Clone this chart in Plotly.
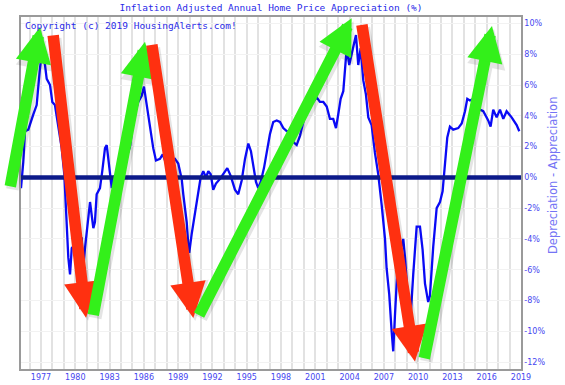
import plotly.graph_objects as go

# ---- data ----
years = [1975.25, 1975.45, 1975.60, 1975.89, 1976.33, 1976.62, 1976.91, 1977.11, 1977.35, 1977.50,
         1977.79, 1977.99, 1978.22, 1978.51, 1978.81, 1979.04, 1979.16, 1979.25, 1979.39, 1979.54,
         1979.69, 1979.91, 1980.24, 1980.56, 1980.70, 1980.85, 1981.14, 1981.29, 1981.58, 1981.72,
         1981.87, 1982.16, 1982.36, 1982.60, 1982.75, 1982.95, 1983.19, 1983.33, 1983.62, 1984.00,
         1984.35, 1984.79, 1985.08, 1985.51, 1985.81, 1986.01, 1986.25, 1986.54, 1986.82, 1987.06,
         1987.41, 1987.65, 1987.85, 1988.29, 1988.72, 1989.01, 1989.31, 1989.45, 1989.75, 1989.89,
         1989.97, 1990.18, 1990.47, 1990.76, 1990.97, 1991.20, 1991.44, 1991.64, 1991.85, 1992.07,
         1992.31, 1992.66, 1992.95, 1993.30, 1993.60, 1993.97, 1994.26, 1994.56, 1994.85, 1995.14,
         1995.37, 1995.57, 1995.81, 1996.01, 1996.22, 1996.51, 1996.75, 1997.03, 1997.32, 1997.62,
         1997.91, 1998.20, 1998.50, 1998.78, 1999.07, 1999.37, 1999.66, 1999.95, 2000.25, 2000.53,
         2000.82, 2001.12, 2001.41, 2001.70, 2002.00, 2002.28, 2002.57, 2002.81, 2003.01, 2003.22,
         2003.45, 2003.75, 2003.97, 2004.18, 2004.38, 2004.56, 2004.76, 2004.97, 2005.20, 2005.43,
         2005.64, 2005.93, 2006.22, 2006.51, 2006.81, 2007.10, 2007.24, 2007.47, 2007.68, 2007.82,
         2007.97, 2008.17, 2008.41, 2008.70, 2008.85, 2008.99, 2009.28, 2009.57, 2009.87, 2010.16,
         2010.39, 2010.60, 2010.88, 2011.03, 2011.32, 2011.62, 2011.91, 2012.14, 2012.35, 2012.55,
         2012.78, 2013.07, 2013.51, 2013.81, 2014.10, 2014.30, 2014.53, 2014.82, 2015.12, 2015.41,
         2015.70, 2016.13, 2016.34, 2016.57, 2016.87, 2017.16, 2017.45, 2017.74, 2018.18, 2018.62,
         2018.85]
appreciation = [-0.7, 1.0, 3.0, 3.1, 4.1, 4.7, 7.1, 8.2, 7.3, 6.4,
                6.0, 4.9, 4.7, 3.4, 1.9, 0.2, -1.6, -3.5, -5.2, -6.3,
                -4.6, -4.4, -4.6, -3.9, -5.9, -4.6, -2.4, -1.6, -3.3, -2.9,
                -1.1, -0.7, 0.4, 1.9, 2.1, 0.8, -0.7, 0.0, 0.2, 0.6,
                1.0, 2.0, 3.8, 4.9, 5.3, 5.9, 4.7, 3.2, 1.9, 1.1,
                1.2, 1.5, 1.1, 1.1, 1.2, 0.9, -0.1, -1.1, -2.9, -4.4,
                -4.9, -3.7, -2.4, -1.1, 0.0, 0.4, 0.0, 0.4, 0.2, -0.8,
                -0.4, -0.1, 0.2, 0.6, 0.1, -0.8, -1.1, -0.2, 1.2, 2.2,
                1.7, 0.7, -0.3, -0.7, -0.3, 0.6, 1.6, 2.8, 3.6, 3.7,
                3.6, 3.2, 3.0, 3.0, 2.3, 2.1, 2.7, 3.6, 4.3, 4.7,
                4.9, 5.2, 4.9, 4.9, 4.6, 3.8, 3.8, 3.2, 4.1, 5.1,
                5.6, 8.4, 7.3, 8.0, 8.8, 9.25, 7.3, 8.4, 6.3, 5.4,
                3.9, 3.4, 1.6, 0.2, -1.8, -4.0, -5.9, -7.6, -10.0, -11.3,
                -9.0, -6.2, -4.9, -4.0, -5.2, -6.7, -9.8, -6.3, -3.2, -3.2,
                -4.7, -6.9, -8.1, -7.7, -4.5, -2.0, -1.6, -0.9, 0.8, 2.6,
                3.3, 3.1, 3.2, 3.5, 4.3, 5.1, 5.0, 5.1, 4.5, 4.4,
                4.3, 3.7, 3.3, 4.4, 3.9, 4.4, 3.8, 4.3, 3.9, 3.4,
                3.0]

tick_years = [1977, 1980, 1983, 1986, 1989, 1992, 1995, 1998, 2001, 2004, 2007, 2010, 2013, 2016, 2019]
y_ticks = [10, 8, 6, 4, 2, 0, -2, -4, -6, -8, -10, -12]

# trend arrows: tail (year, pct) -> head (year, pct)
arrow_colors = ["green", "red", "green", "red", "green", "red", "green"]
arrow_tail_x = [1974.29, 1978.05, 1981.55, 1986.68, 1990.76, 2005.06, 2010.51]
arrow_tail_y = [-0.68, 9.32, -9.04, 8.71, -9.04, 10.01, -11.85]
arrow_head_x = [1976.91, 1980.94, 1986.10, 1990.33, 2004.18, 2009.72, 2016.46]
arrow_head_y = [9.77, -9.12, 8.82, -9.14, 10.34, -11.96, 9.84]

COLOR_MAP = {"green": "#33f01a", "red": "#ff3010"}
TEXT_BLUE = "#2a2ae8"
MONO = "DejaVu Sans Mono"

fig = go.Figure()
fig.add_trace(go.Scatter(x=years, y=appreciation, mode="lines",
                         line=dict(color="#0a0af5", width=2.3), hoverinfo="skip",
                         showlegend=False))

fig.add_shape(type="line", xref="paper", x0=0, x1=1, yref="y", y0=0, y1=0,
              line=dict(color="#0c1a8a", width=4.5), layer="above")

annotations = []
for c, tx, ty, hx, hy in zip(arrow_colors, arrow_tail_x, arrow_tail_y, arrow_head_x, arrow_head_y):
    # soft shadow
    annotations.append(dict(x=hx, y=hy, ax=tx, ay=ty, xref="x", yref="y", axref="x", ayref="y",
                            text="", showarrow=True, arrowhead=2, arrowsize=0.62, arrowwidth=12.5,
                            arrowcolor="rgba(0,0,0,0.10)", standoff=0, xshift=2, yshift=-3))
for c, tx, ty, hx, hy in zip(arrow_colors, arrow_tail_x, arrow_tail_y, arrow_head_x, arrow_head_y):
    annotations.append(dict(x=hx, y=hy, ax=tx, ay=ty, xref="x", yref="y", axref="x", ayref="y",
                            text="", showarrow=True, arrowhead=2, arrowsize=0.62, arrowwidth=11.5,
                            arrowcolor=COLOR_MAP[c], standoff=0))

annotations.append(dict(text="Copyright (c) 2019 HousingAlerts.com!", xref="paper", yref="paper",
                        x=0.003, y=0.997, xanchor="left", yanchor="top", showarrow=False,
                        font=dict(family=MONO, size=9.5, color=TEXT_BLUE)))

annotations.append(dict(text="Depreciation - Appreciation", xref="paper", yref="paper",
                        x=(553 - 21) / 500, y=(369 - 176) / 352, xanchor="center", yanchor="middle",
                        textangle=-90, showarrow=False,
                        font=dict(family="DejaVu Sans", size=11.5, color="#7474f5")))

fig.update_layout(
    width=565, height=385,
    margin=dict(l=21, r=44, t=17, b=16, autoexpand=False),
    paper_bgcolor="white", plot_bgcolor="white",
    title=dict(text="Inflation Adjusted Annual Home Price Appreciation (%)",
               x=(21 + 250) / 565, xanchor="center", y=1 - 8 / 385, yanchor="middle",
               font=dict(family=MONO, size=9.5, color=TEXT_BLUE)),
    annotations=annotations,
    showlegend=False,
)

fig.update_xaxes(range=[1975.25, 2019.0], tickmode="array", tickvals=tick_years,
                 ticktext=[str(t) for t in tick_years], ticks="", showgrid=True,
                 gridcolor="#e2e2e2", gridwidth=1.5, automargin=False,
                 minor=dict(dtick=1, tick0=1975, showgrid=True, gridcolor="#e2e2e2", gridwidth=1.5),
                 tickfont=dict(family="DejaVu Sans", size=8, color="#4646f0"),
                 showline=True, linecolor="#9a9a9a", linewidth=1.5, mirror=True,
                 zeroline=False, fixedrange=True)
fig.update_yaxes(range=[-12.45, 10.42], side="right", tickmode="array", tickvals=y_ticks,
                 ticktext=[f"{v}%" for v in y_ticks], ticks="", showgrid=True,
                 gridcolor="#f2f2f2", gridwidth=1, automargin=False,
                 tickfont=dict(family="DejaVu Sans", size=8, color="#4646f0"),
                 showline=True, linecolor="#9a9a9a", linewidth=1.5, mirror=True,
                 zeroline=False, fixedrange=True)

fig.write_html("out.html", config={"displayModeBar": False},
               post_script="document.body.style.margin='0px';document.body.style.overflow='hidden';")
